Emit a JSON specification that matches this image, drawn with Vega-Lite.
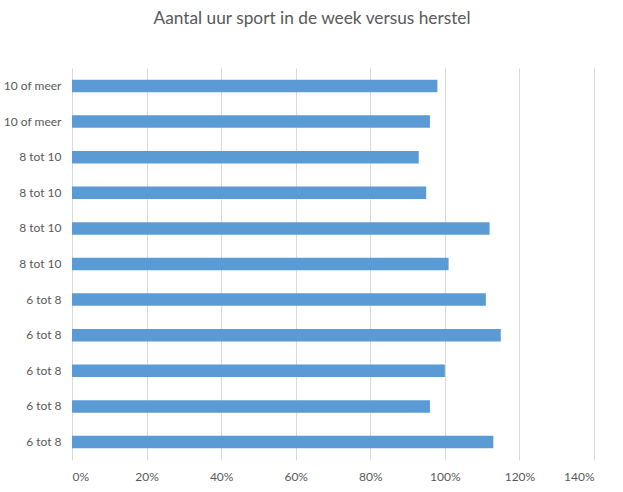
{
  "$schema": "https://vega.github.io/schema/vega-lite/v6.json",
  "width": 522,
  "height": 392,
  "autosize": {"type": "none"},
  "padding": {"left": 72, "top": 68, "right": 29, "bottom": 32},
  "background": "white",
  "title": {
    "text": "Aantal uur sport in de week versus herstel",
    "fontSize": 17.3,
    "font": "Lato",
    "fontWeight": "normal",
    "color": "#595959",
    "anchor": "middle",
    "dx": -21,
    "offset": 41
  },
  "data": {
    "values": [
      {"id": "10 of meer|1", "herstel": 0.98},
      {"id": "10 of meer|2", "herstel": 0.96},
      {"id": "8 tot 10|3", "herstel": 0.93},
      {"id": "8 tot 10|4", "herstel": 0.95},
      {"id": "8 tot 10|5", "herstel": 1.12},
      {"id": "8 tot 10|6", "herstel": 1.01},
      {"id": "6 tot 8|7", "herstel": 1.11},
      {"id": "6 tot 8|8", "herstel": 1.15},
      {"id": "6 tot 8|9", "herstel": 1.0},
      {"id": "6 tot 8|10", "herstel": 0.96},
      {"id": "6 tot 8|11", "herstel": 1.13}
    ]
  },
  "mark": {"type": "bar", "color": "#5B9BD5", "size": 12.5},
  "encoding": {
    "y": {
      "field": "id",
      "type": "nominal",
      "sort": null,
      "title": null,
      "scale": {"paddingInner": 0.65, "paddingOuter": 0.33},
      "axis": {
        "labelExpr": "split(datum.label, '|')[0]",
        "ticks": false,
        "domain": false,
        "grid": false,
        "labelFont": "Lato",
        "labelFontSize": 12,
        "labelColor": "#595959",
        "labelPadding": 11
      }
    },
    "x": {
      "field": "herstel",
      "type": "quantitative",
      "title": null,
      "scale": {"domain": [0, 1.4], "nice": false},
      "axis": {
        "values": [0, 0.2, 0.4, 0.6, 0.8, 1.0, 1.2, 1.4],
        "format": ".0%",
        "ticks": false,
        "domain": false,
        "grid": true,
        "gridColor": "#d9d9d9",
        "labelFont": "Lato",
        "labelFontSize": 12,
        "labelColor": "#595959",
        "labelPadding": 11
      }
    }
  },
  "config": {"view": {"stroke": null}}
}
